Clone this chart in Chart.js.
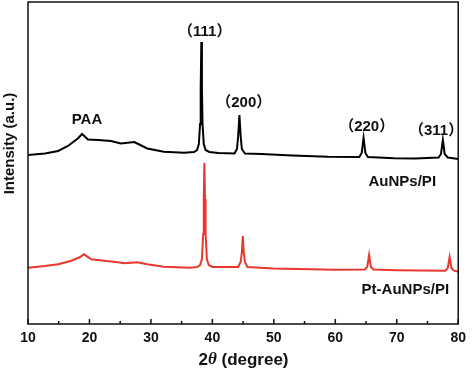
<!DOCTYPE html>
<html>
<head>
<meta charset="utf-8">
<script src="https://cdn.jsdelivr.net/npm/chart.js@4/dist/chart.umd.min.js"></script>
<style>
  body { margin: 0; background: #fff; }
  #wrap { width: 472px; height: 368px; }
</style>
</head>
<body>
<div id="wrap"><canvas id="xrd"></canvas></div>
<script>
// 2theta (degree) and intensity (a.u.)
const auTheta = [10, 12.75, 14.9, 16.5, 18.1, 18.8, 19.75, 21.4, 23.5, 25.1, 27.3, 28.1, 29.4, 32.1, 35.4,
  37.0, 37.5, 37.8, 38.0, 38.1, 38.2, 38.3, 38.4, 38.6, 38.9, 39.5, 41,
  43.6, 44.0, 44.2, 44.4, 44.6, 44.8, 45.3, 48, 53, 58.8,
  63.9, 64.3, 64.6, 64.9, 65.3, 69.6, 73,
  76.8, 77.2, 77.5, 77.8, 78.3, 80]
const auCounts = [169, 170.5, 173, 178, 185.5, 190, 184.5, 184, 183, 180.5, 182, 179.5, 175.5, 172.3, 171.3,
  172, 174, 180, 200, 235, 282, 235, 200, 180, 174, 172, 171,
  170.5, 175, 188, 209, 188, 175, 170.5, 170, 168.5, 167.3,
  167, 171, 186, 171, 167, 165.8, 165.5,
  166.5, 170, 184, 170, 166.5, 165]

const ptTheta = [10, 12.75, 14.9, 17.05, 18.5, 19.1, 20.3, 22.4, 24.6, 25.7, 27.8, 29.4, 32.1, 36.4,
  37.5, 38.0, 38.3, 38.5, 38.6, 38.7, 38.8, 38.9, 39.1, 39.4, 40,
  44.2, 44.6, 44.8, 44.95, 45.1, 45.3, 45.7, 50, 60,
  64.8, 65.2, 65.5, 65.8, 66.2, 70,
  77.9, 78.3, 78.6, 78.9, 79.3, 80]
const ptCounts = [56.3, 58, 59.7, 63.3, 67, 69.7, 64.7, 63.3, 61.7, 60.7, 61.7, 59.7, 57.3, 56.3,
  57, 59, 65, 90, 125, 161, 125, 90, 65, 59, 57,
  57, 62, 72, 88, 72, 62, 57, 55.5, 54.3,
  54.5, 57, 69, 57, 54.5, 53.8,
  53.3, 56, 67, 56, 53.3, 52.5]

const majorTicks = [10, 20, 30, 40, 50, 60, 70, 80]
const minorTicks = [15, 25, 35, 45, 55, 65, 75]

// text labels placed in data units
const noteText = ['PAA', '（111）', '（200）', '（220）', '（311）', 'AuNPs/PI', 'Pt-AuNPs/PI']
const noteX = [19.6, 38.75, 45.1, 65.1, 76.4, 70.9, 71.4]
const noteY = [204, 292, 221, 197.3, 193.3, 142.3, 34]

const FONT = '"Liberation Sans", Arial, "Noto Sans CJK SC", sans-serif'

function pairs(xs, ys) {
  return xs.map((x, i) => ({ x: x, y: ys[i] }))
}

const frame = {
  id: 'frame',
  afterDraw(chart) {
    const ctx = chart.ctx
    const a = chart.chartArea
    const xs = chart.scales.x
    const ys = chart.scales.y
    ctx.save()
    ctx.strokeStyle = '#111'
    ctx.lineWidth = 1.5
    ctx.strokeRect(a.left, a.top, a.right - a.left, a.bottom - a.top)
    // inward ticks
    ctx.beginPath()
    majorTicks.forEach(v => {
      const px = xs.getPixelForValue(v)
      ctx.moveTo(px, a.bottom)
      ctx.lineTo(px, a.bottom - 5)
    })
    minorTicks.forEach(v => {
      const px = xs.getPixelForValue(v)
      ctx.moveTo(px, a.bottom)
      ctx.lineTo(px, a.bottom - 3)
    })
    ctx.stroke()

    ctx.fillStyle = '#111'
    ctx.textAlign = 'center'
    ctx.textBaseline = 'middle'
    ctx.font = 'bold 15px ' + FONT
    noteText.forEach((t, i) => {
      ctx.fillText(t, xs.getPixelForValue(noteX[i]), ys.getPixelForValue(noteY[i]))
    })

    // y title
    ctx.save()
    ctx.translate(9.5, 143.5)
    ctx.rotate(-Math.PI / 2)
    ctx.fillText('Intensity (a.u.)', 0, 0)
    ctx.restore()

    // x title with italic theta
    const parts = [['2', 'bold 17px ' + FONT], ['θ', 'italic bold 17px "Liberation Serif", serif'], [' (degree)', 'bold 17px ' + FONT]]
    let total = 0
    parts.forEach(p => { ctx.font = p[1]; total += ctx.measureText(p[0]).width })
    let cx = 243.5 - total / 2
    ctx.textAlign = 'left'
    parts.forEach(p => {
      ctx.font = p[1]
      ctx.fillText(p[0], cx, 360)
      cx += ctx.measureText(p[0]).width
    })
    ctx.restore()
  }
}

new Chart(document.getElementById('xrd'), {
  type: 'scatter',
  data: {
    datasets: [
      {
        label: 'AuNPs/PI',
        data: pairs(auTheta, auCounts),
        showLine: true,
        borderColor: '#000',
        borderWidth: 2,
        pointRadius: 0,
        tension: 0
      },
      {
        label: 'Pt-AuNPs/PI',
        data: pairs(ptTheta, ptCounts),
        showLine: true,
        borderColor: '#e8372c',
        borderWidth: 2,
        pointRadius: 0,
        tension: 0
      }
    ]
  },
  options: {
    responsive: true,
    maintainAspectRatio: false,
    animation: false,
    layout: { padding: { top: 2, right: 11, left: 0, bottom: 0 } },
    plugins: {
      legend: { display: false },
      tooltip: { enabled: false }
    },
    scales: {
      x: {
        type: 'linear',
        min: 10,
        max: 80,
        afterBuildTicks: s => { s.ticks = majorTicks.map(v => ({ value: v })) },
        afterFit: s => { s.height = 44 },
        grid: { display: false, drawTicks: false },
        border: { display: false },
        ticks: {
          color: '#111',
          padding: 6,
          maxRotation: 0,
          font: { family: FONT, size: 14, weight: 'bold' }
        }
      },
      y: {
        min: 0,
        max: 322,
        afterFit: s => { s.width = 28 },
        grid: { display: false, drawTicks: false },
        border: { display: false },
        ticks: { display: false }
      }
    }
  },
  plugins: [frame]
})
</script>
</body>
</html>
